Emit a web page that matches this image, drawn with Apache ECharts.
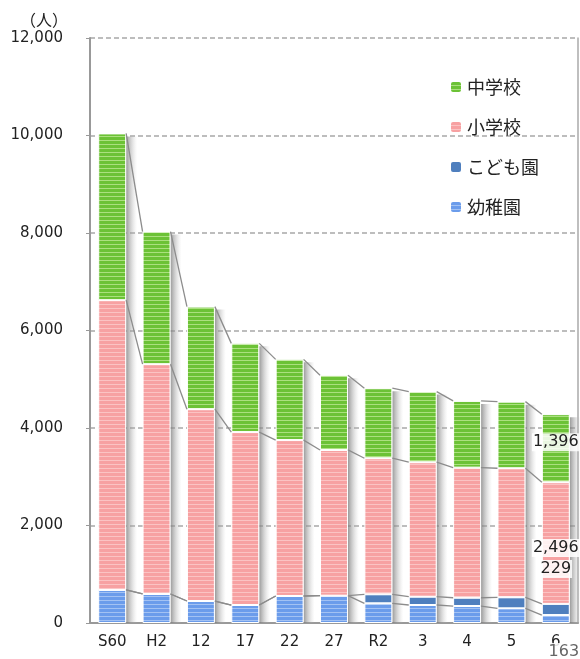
<!DOCTYPE html>
<html>
<head>
<meta charset="utf-8">
<script src="https://cdn.jsdelivr.net/npm/echarts@6/dist/echarts.min.js"></script>
<style>
  html, body { margin: 0; padding: 0; background: #fff; }
  #chart { width: 580px; height: 659px; }
</style>
</head>
<body>
<div id="chart"></div>
<script>
// 年度別の園児・児童・生徒数（人）
const years = ['S60', 'H2', '12', '17', '22', '27', 'R2', '3', '4', '5', '6'];
const kindergarten = [678, 595, 451, 369, 554, 560, 404, 369, 348, 301, 163];      // 幼稚園
const nursery      = [null, null, null, null, null, null, 185, 170, 170, 226, 229]; // こども園
const elementary   = [5944, 4714, 3934, 3547, 3198, 2990, 2791, 2759, 2669, 2647, 2496]; // 小学校
const juniorHigh   = [3421, 2721, 2105, 1820, 1656, 1533, 1436, 1449, 1369, 1367, 1396]; // 中学校
const yTicks = { min: 0, max: 12000, interval: 2000 };

const FONT = 'DejaVu Sans, Verdana, sans-serif';
const CJK = '"Noto Sans CJK JP", sans-serif';

// horizontal stripe fill used by the bars
function stripes(base, light) {
  const c = document.createElement('canvas');
  c.width = 4; c.height = 4;
  const g = c.getContext('2d');
  g.fillStyle = base; g.fillRect(0, 0, 4, 4);
  g.fillStyle = light; g.fillRect(0, 0, 4, 1);
  return { image: c, repeat: 'repeat' };
}

const BAR_RATIO = 0.63;
const last = years.length - 1;

const barStyle = (color) => ({
  color: color,
  borderColor: '#ffffff',
  borderWidth: 1
});

// value label on the final year's segments only
function withLastLabel(arr, labelOpt) {
  return arr.map((v, i) => i === last
    ? { value: v, label: Object.assign({ show: true, fontFamily: FONT, fontSize: 16, color: '#222',
        backgroundColor: 'rgba(255,255,255,0.85)', padding: [1, 1],
        formatter: (p) => Number(p.value).toLocaleString('en-US') }, labelOpt) }
    : v);
}

// cumulative heights per year: boundaries of each stacked segment
const levels = years.map((_, i) => {
  const a = kindergarten[i] || 0;
  const b = a + (nursery[i] || 0);
  const c = b + elementary[i];
  const d = c + juniorHigh[i];
  return [a, b, c, d];
});
const connectorData = [];
for (let i = 0; i < years.length - 1; i++) {
  connectorData.push([i].concat(levels[i], levels[i + 1]));
}
const shadowData = years.map((_, i) => [i, levels[i][3]]);

const chart = echarts.init(document.getElementById('chart'), null, { renderer: 'canvas' });

chart.setOption({
  animation: false,
  backgroundColor: '#ffffff',
  grid: { left: 90, right: 2, top: 38, bottom: 36, containLabel: false },
  legend: {
    orient: 'vertical',
    left: 444,
    top: 72,
    itemWidth: 12,
    itemHeight: 12,
    itemGap: 20,
    textStyle: { fontFamily: CJK, fontSize: 18, color: '#222', lineHeight: 20 },
    data: ['中学校', '小学校', 'こども園', '幼稚園']
  },
  xAxis: {
    type: 'category',
    data: years,
    axisLine: { lineStyle: { color: '#999', width: 2 } },
    axisTick: { show: false },
    axisLabel: { fontFamily: FONT, fontSize: 15, color: '#222', margin: 12 }
  },
  yAxis: [{
    type: 'value',
    min: yTicks.min,
    max: yTicks.max,
    interval: yTicks.interval,
    name: '（人）',
    nameLocation: 'end',
    nameGap: 10,
    nameTextStyle: { fontFamily: CJK, fontSize: 16, color: '#222', align: 'right', padding: [0, 22, 0, 0] },
    axisLine: { show: true, lineStyle: { color: '#999', width: 2 } },
    axisTick: { show: true, length: 4, lineStyle: { color: '#999' } },
    axisLabel: { fontFamily: FONT, fontSize: 15, color: '#222', margin: 27,
      formatter: (v) => v.toLocaleString('en-US') },
    splitLine: { show: true, lineStyle: { color: '#a8a8a8', type: [5, 3], width: 1.5 } }
  }, {
    type: 'value',
    position: 'right',
    min: yTicks.min,
    max: yTicks.max,
    interval: yTicks.interval,
    axisLine: { show: true, lineStyle: { color: '#aaa', width: 1.5 } },
    axisTick: { show: false },
    axisLabel: { show: false },
    splitLine: { show: false }
  }],
  series: [
    {
      // soft drop shadow to the right of every column
      type: 'custom',
      z: 1,
      silent: true,
      encode: { x: 0, y: 1 },
      data: shadowData,
      renderItem: function (params, api) {
        const band = api.size([1, 0])[0];
        const half = band * BAR_RATIO / 2;
        const top = api.coord([api.value(0), api.value(1)]);
        const base = api.coord([api.value(0), 0]);
        const x = top[0] + half;
        const w = 11;
        return {
          type: 'rect',
          shape: { x: x, y: top[1] + 3, width: w, height: base[1] - top[1] - 3 },
          style: {
            fill: new echarts.graphic.LinearGradient(0, 0, 1, 0, [
              { offset: 0, color: 'rgba(120,120,120,0.75)' },
              { offset: 0.35, color: 'rgba(150,150,150,0.5)' },
              { offset: 1, color: 'rgba(200,200,200,0)' }
            ])
          }
        };
      }
    },
    {
      name: '幼稚園', type: 'bar', stack: 'total', barWidth: (BAR_RATIO * 100) + '%', z: 2,
      itemStyle: barStyle(stripes('#6b9ceb', '#a3c2f3')),
      data: withLastLabel(kindergarten, { position: 'bottom', distance: 20, offset: [8, 0], color: '#666' })
    },
    {
      name: 'こども園', type: 'bar', stack: 'total', z: 2,
      itemStyle: barStyle('#4f7fbe'),
      data: withLastLabel(nursery, { position: 'top', distance: 26 })
    },
    {
      name: '小学校', type: 'bar', stack: 'total', z: 2,
      itemStyle: barStyle(stripes('#f7a1a2', '#fbc3c3')),
      data: withLastLabel(elementary, { position: 'inside', offset: [0, 5] })
    },
    {
      name: '中学校', type: 'bar', stack: 'total', z: 2,
      itemStyle: barStyle(stripes('#6cc236', '#abe07f')),
      data: withLastLabel(juniorHigh, { position: 'inside', offset: [0, -6] })
    },
    {
      // series lines joining the segment boundaries of neighbouring bars
      type: 'custom',
      z: 3,
      silent: true,
      encode: { x: 0, y: [1, 2, 3, 4, 5, 6, 7, 8] },
      data: connectorData,
      renderItem: function (params, api) {
        const i = api.value(0);
        const band = api.size([1, 0])[0];
        const half = band * BAR_RATIO / 2;
        const children = [];
        for (let k = 0; k < 4; k++) {
          const p0 = api.coord([i, api.value(1 + k)]);
          const p1 = api.coord([i + 1, api.value(5 + k)]);
          children.push({
            type: 'line',
            shape: { x1: p0[0] + half, y1: p0[1], x2: p1[0] - half, y2: p1[1] },
            style: { stroke: '#8c8c8c', lineWidth: 1.3 }
          });
        }
        return { type: 'group', children: children };
      }
    }
  ]
});
</script>
</body>
</html>
